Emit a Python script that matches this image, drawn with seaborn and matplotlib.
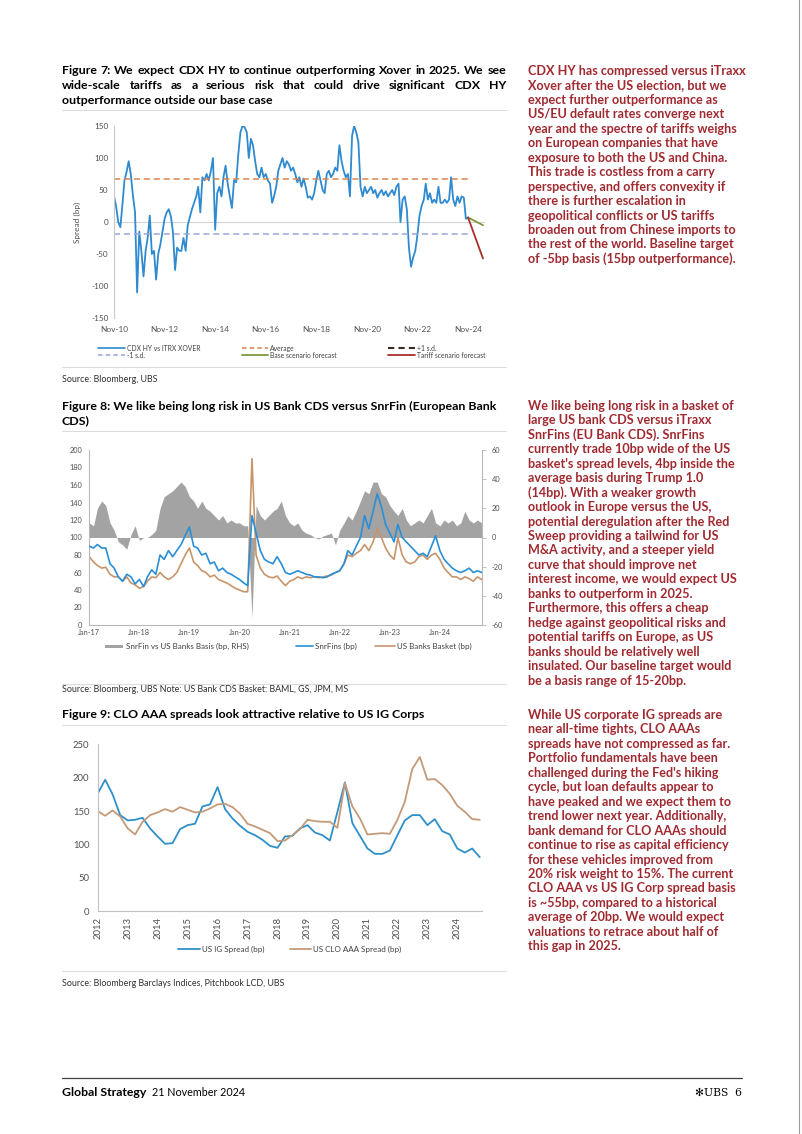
import matplotlib
matplotlib.use("Agg")
import matplotlib.pyplot as plt
from matplotlib.lines import Line2D
from matplotlib.patches import Rectangle
import pandas as pd
import seaborn as sns

# ---------------- Figure 7 data (monthly, Nov-2010 .. Nov-2024) ----------------
fig7_start = "2010-11-01"
cdx_hy_vs_xover = [
    40, 25, 0, -8, 25, 65, 78, 95, 75, 42, 15, -110,
    -15, -45, -85, -45, -25, 10, -50, -45, -90, -50, -35, -15,
    5, 15, 20, 8, -15, -75, -40, -45, -45, -25, -45, -5,
    8, 20, 30, 40, 55, 15, 70, 65, 75, 65, 80, 100,
    -12, 45, 55, 40, 70, 88, 60, 40, 22, 65, 62, 105,
    140, 150, 148, 140, 100, 130, 120, 95, 75, 70, 85, 70,
    75, 65, 60, 30, 40, 55, 80, 90, 100, 85, 95, 90,
    80, 85, 75, 62, 70, 55, 68, 55, 38, 40, 35, 45,
    65, 80, 65, 50, 45, 75, 80, 70, 75, 85, 80, 120,
    95, 80, 70, 75, 40, 135, 150, 140, 125, 55, 40, 55,
    45, 50, 55, 45, 50, 38, 45, 50, 42, 48, 40, 45,
    50, 42, 55, 60, 0, 35, 40, 20, -40, -70, -55, -45,
    -20, 10, 25, 35, 60, 35, 45, 30, 35, 30, 55, 30,
    30, 35, 30, 35, 70, 35, 25, 40, 30, 40, 38, 5,
    7,
]
fig7_average = 67
fig7_plus_sd = 155
fig7_minus_sd = -19
forecast_dates = ["2024-11-01", "2025-06-05"]
base_forecast = [7, -5]
tariff_forecast = [7, -57]
fig7_xticks = ["2010-11-01", "2012-11-01", "2014-11-01", "2016-11-01",
               "2018-11-01", "2020-11-01", "2022-11-01", "2024-11-01"]
fig7_xlabels = ["Nov-10", "Nov-12", "Nov-14", "Nov-16", "Nov-18", "Nov-20", "Nov-22", "Nov-24"]
fig7_yticks = [-150, -100, -50, 0, 50, 100, 150]

# ---------------- Figure 8 data (monthly, Jan-2017 .. Nov-2024) ----------------
fig8_start = "2017-01-01"
snrfins = [
    90, 88, 92, 88, 88, 70, 65, 55, 50, 58, 55, 47,
    52, 44, 55, 63, 58, 80, 75, 85, 78, 85, 92, 102,
    112, 90, 88, 80, 82, 70, 72, 62, 65, 60, 58, 55,
    52, 48, 45, 125, 105, 85, 75, 72, 70, 78, 70, 60,
    58, 60, 62, 60, 58, 57, 55, 55, 54, 55, 58, 60,
    62, 70, 85, 80, 90, 100, 125, 110, 130, 150, 135, 115,
    105, 95, 115, 100, 95, 90, 85, 80, 82, 78, 90, 102,
    85, 75, 70, 65, 62, 60, 62, 65, 60, 62, 60,
]
us_banks = [
    78, 72, 68, 65, 66, 58, 55, 55, 50, 55, 48, 46,
    42, 44, 50, 55, 54, 60, 55, 52, 55, 60, 70, 80,
    88, 72, 68, 62, 60, 55, 57, 52, 50, 48, 45, 42,
    40, 38, 38, 190, 80, 65, 58, 55, 54, 56, 50, 45,
    50, 52, 55, 53, 55, 54, 55, 54, 55, 56, 57, 60,
    62, 70, 80, 78, 82, 85, 92, 85, 95, 110, 100, 88,
    80, 75, 100, 80, 72, 70, 72, 78, 80, 75, 80, 82,
    75, 65, 60, 55, 55, 52, 55, 53, 50, 55, 52,
]
snrfin_basis = [
    10, 8, 20, 25, 22, 10, 5, -3, -5, -8, 2, 8,
    -2, 0, 0, 2, 5, 20, 28, 30, 32, 35, 38, 35,
    28, 25, 20, 25, 20, 18, 15, 12, 15, 10, 12, 10,
    10, 8, 8, -55, 22, 15, 12, 15, 18, 20, 25, 15,
    10, 8, 10, 5, 3, 2, 0, -1, 1, 2, 3, -5,
    5, 10, 15, 12, 18, 25, 32, 30, 38, 38, 30, 28,
    22, 18, 15, 20, 12, 8, 10, 12, 10, 15, 20, 10,
    8, 12, 10, 12, 8, 10, 18, 12, 10, 12, 10,
]
fig8_xticks = ["2017-01-01", "2018-01-01", "2019-01-01", "2020-01-01",
               "2021-01-01", "2022-01-01", "2023-01-01", "2024-01-01"]
fig8_xlabels = ["Jan-17", "Jan-18", "Jan-19", "Jan-20", "Jan-21", "Jan-22", "Jan-23", "Jan-24"]
fig8_lhs_ticks = [0, 20, 40, 60, 80, 100, 120, 140, 160, 180, 200]
fig8_rhs_ticks = [-60, -40, -20, 0, 20, 40, 60]

# ---------------- Figure 9 data (quarterly, 2012Q1 .. 2024Q4) ----------------
fig9_start = "2012-01-01"
us_ig = [
    176, 197, 175, 144, 136, 137, 140, 124, 112, 101, 102, 123,
    129, 131, 157, 160, 186, 153, 139, 128, 119, 114, 107, 98,
    95, 112, 113, 124, 129, 118, 114, 106, 149, 193, 132, 113,
    94, 86, 86, 91, 114, 136, 144, 144, 129, 138, 120, 115,
    94, 88, 94, 81,
]
us_clo_aaa = [
    150, 143, 151, 142, 124, 115, 134, 144, 148, 153, 149, 156,
    152, 148, 149, 154, 160, 161, 156, 146, 131, 127, 122, 117,
    105, 106, 114, 123, 137, 135, 134, 134, 125, 192, 157, 139,
    115, 116, 117, 116, 137, 164, 213, 231, 197, 198, 189, 176,
    158, 149, 138, 137,
]
fig9_years = ["2012", "2013", "2014", "2015", "2016", "2017", "2018",
              "2019", "2020", "2021", "2022", "2023", "2024"]
fig9_yticks = [0, 50, 100, 150, 200, 250]

# ---------------- styling ----------------
W, H = 802, 1134
sns.set_theme(style="white")
FONT = ["Lato", "DejaVu Sans"]
plt.rcParams["font.family"] = FONT
plt.rcParams["axes.unicode_minus"] = False

BLUE7, ORANGE7, LAV7 = "#2f8ad0", "#d9844c", "#9ea6da"
OLIVE7, RED7, DARK7 = "#7f9a3c", "#a8302a", "#3a2a25"
BLUE8, TAN8, GREY8 = "#2a8fd6", "#c8956a", "#a3a3a3"
BLUE9, TAN9 = "#2e90c9", "#c49a78"
TXTRED = "#a02a30"
TICKC = "#505050"
SPINE = "#c8c8c8"

fig = plt.figure(figsize=(W / 100, H / 100), dpi=100)
fig.patch.set_facecolor("white")
renderer = fig.canvas.get_renderer()


def fx(x):
    return x / W


def fy(y):
    return 1 - y / H


def text_px(x, y, s, **kw):
    kw.setdefault("va", "center")
    return fig.text(fx(x), fy(y), s, **kw)


def width_px(s, size, weight="normal"):
    t = fig.text(0, 0, s, fontsize=size, fontweight=weight)
    w = t.get_window_extent(renderer).width
    t.remove()
    return w


def fit(s, target, weight="normal"):
    return 10 * target / width_px(s, 10, weight)


def hline_px(x0, x1, y, color="#dcdcdc", lw=0.8, **kw):
    fig.add_artist(Line2D([fx(x0), fx(x1)], [fy(y), fy(y)], color=color, lw=lw, **kw))


def axes_px(l, t, r, b):
    return fig.add_axes([fx(l), fy(b), (r - l) / W, (b - t) / H])


def justified(y, line, x0, x1, **kw):
    words = line.split()
    ts = [text_px(0, y, w, **kw) for w in words]
    widths = [t.get_window_extent(renderer).width for t in ts]
    gap = (x1 - x0 - sum(widths)) / (len(words) - 1)
    x = x0
    for t, w in zip(ts, widths):
        t.set_x(fx(x))
        x += w + gap


TITLE = fit("Figure 9: CLO AAA spreads look attractive relative to US IG Corps", 365, "bold")
BODY = fit("year and the spectre of tariffs weighs", 210, "bold")
SRC = fit("Source: Bloomberg Barclays Indices, Pitchbook LCD, UBS", 224)
TICK7 = fit("Nov-10", 28)
TICK8 = fit("Jan-17", 22)
TICK9 = fit("250", 16.5)
LEG7 = fit("CDX HY vs ITRX XOVER", 73)
LEG8 = fit("SnrFin vs US Banks Basis (bp, RHS)", 122)
LEG9 = fit("US IG Spread (bp)", 62)
FOOTB = fit("Global Strategy", 84, "bold")
FOOT = fit("21 November 2024", 93)


def legend_line(x0, x1, y, label, size, **kw):
    fig.add_artist(Line2D([fx(x0), fx(x1)], [fy(y), fy(y)], **kw))
    text_px(x1 + 2, y, label, fontsize=size, color="#404040")


def style_axis(ax, tick_size, pad):
    for s in ax.spines.values():
        s.set_visible(False)
    ax.tick_params(length=0, labelsize=tick_size, colors=TICKC, pad=pad)
    ax.set_xlabel("")
    ax.set_ylabel("")
    ax.grid(False)


# ================= Figure 7 =================
justified(71, "Figure 7: We expect CDX HY to continue outperforming Xover in 2025. We see",
          62, 506, fontsize=TITLE, fontweight="bold", color="black")
justified(85.7, "wide-scale tariffs as a serious risk that could drive significant CDX HY",
          62, 506, fontsize=TITLE, fontweight="bold", color="black")
text_px(62, 100.3, "outperformance outside our base case", fontsize=TITLE, fontweight="bold", color="black")
hline_px(62, 506, 109.5)

ax7 = axes_px(114, 126, 485, 318)
d7 = pd.date_range(fig7_start, periods=len(cdx_hy_vs_xover), freq="MS")
ax7.axhline(0, color="#d4d4d4", lw=0.8, zorder=0)
sns.lineplot(x=d7, y=cdx_hy_vs_xover, ax=ax7, color=BLUE7, lw=1.3)
ax7.hlines([fig7_average], d7[0], d7[-1], colors=ORANGE7, linestyles=(0, (4, 2.5)), lw=1.1)
ax7.hlines([fig7_plus_sd], d7[0], d7[-1], colors=DARK7, linestyles=(0, (4, 2.5)), lw=1.3)
ax7.hlines([fig7_minus_sd], d7[0], d7[-1], colors=LAV7, linestyles=(0, (4, 2.5)), lw=1.1)
fd = pd.to_datetime(forecast_dates)
sns.lineplot(x=fd, y=base_forecast, ax=ax7, color=OLIVE7, lw=1.3)
sns.lineplot(x=fd, y=tariff_forecast, ax=ax7, color=RED7, lw=1.3)
ax7.set_ylim(-150, 150)
ax7.set_xlim(pd.Timestamp("2010-11-01"), pd.Timestamp("2025-07-04"))
ax7.set_yticks(fig7_yticks)
ax7.set_xticks(pd.to_datetime(fig7_xticks))
ax7.set_xticklabels(fig7_xlabels)
style_axis(ax7, TICK7, 4)
ax7.tick_params(axis="x", pad=6)
ax7.spines["left"].set_visible(True)
ax7.spines["left"].set_color(SPINE)
ax7.spines["left"].set_linewidth(0.8)
text_px(77, 222, "Spread (bp)", fontsize=TICK7, color=TICKC, rotation=90, ha="center")

legend_line(98, 125, 348.3, "CDX HY vs ITRX XOVER", LEG7, color=BLUE7, lw=1.2)
legend_line(98, 125, 355, "-1 s.d.", LEG7, color=LAV7, lw=1.1, ls=(0, (3, 2)))
legend_line(242, 268, 348.3, "Average", LEG7, color=ORANGE7, lw=1.1, ls=(0, (3, 2)))
legend_line(242, 268, 355, "Base scenario forecast", LEG7, color=OLIVE7, lw=1.3)
legend_line(388, 415, 348.3, "+1 s.d.", LEG7, color=DARK7, lw=1.5, ls=(0, (3, 2)))
legend_line(388, 415, 355, "Tariff scenario forecast", LEG7, color=RED7, lw=1.3)
hline_px(62, 506, 367)
text_px(62, 379, "Source: Bloomberg, UBS", fontsize=SRC, color="#303030")

# ================= Figure 8 =================
text_px(62, 406, "Figure 8: We like being long risk in US Bank CDS versus SnrFin (European Bank",
        fontsize=TITLE, fontweight="bold", color="black")
text_px(62, 420.5, "CDS)", fontsize=TITLE, fontweight="bold", color="black")
hline_px(62, 506, 431)

ax8 = axes_px(89.3, 450, 481.7, 625)
d8 = pd.date_range(fig8_start, periods=len(snrfins), freq="MS")
sns.lineplot(x=d8, y=snrfins, ax=ax8, color=BLUE8, lw=1.2, zorder=3)
sns.lineplot(x=d8, y=us_banks, ax=ax8, color=TAN8, lw=1.2, zorder=2)
ax8b = ax8.twinx()
ax8b.fill_between(d8, 0, snrfin_basis, color=GREY8, lw=0)
ax8b.set_ylim(-60, 60)
ax8b.set_yticks(fig8_rhs_ticks)
ax8.set_zorder(ax8b.get_zorder() + 1)
ax8.patch.set_visible(False)
ax8.set_ylim(0, 200)
ax8.set_yticks(fig8_lhs_ticks)
ax8.set_xlim(pd.Timestamp("2017-01-01"), pd.Timestamp("2024-11-01"))
ax8.set_xticks(pd.to_datetime(fig8_xticks))
ax8.set_xticklabels(fig8_xlabels)
style_axis(ax8, TICK8, 5)
style_axis(ax8b, TICK8, 4)
ax8.tick_params(axis="x", pad=3)
for sp in ("left", "bottom"):
    ax8.spines[sp].set_visible(True)
    ax8.spines[sp].set_color("#b8b8b8")
    ax8.spines[sp].set_linewidth(0.8)
ax8b.spines["right"].set_visible(True)
ax8b.spines["right"].set_color("#b8b8b8")
ax8b.spines["right"].set_linewidth(0.8)
ax8b.tick_params(axis="y", length=3, width=0.6, color="#b8b8b8", direction="out")

fig.add_artist(Rectangle((fx(105), fy(647.5)), 18 / W, 3 / H, color=GREY8, lw=0))
text_px(126, 646, "SnrFin vs US Banks Basis (bp, RHS)", fontsize=LEG8, color="#404040")
legend_line(296, 313, 646, "SnrFins (bp)", LEG8, color=BLUE8, lw=1.2)
legend_line(375, 395, 646, "US Banks Basket (bp)", LEG8, color=TAN8, lw=1.2)
hline_px(62, 506, 684)
text_px(62, 690, "Source: Bloomberg, UBS Note: US Bank CDS Basket: BAML, GS, JPM, MS",
        fontsize=SRC, color="#303030")

# ================= Figure 9 =================
text_px(62, 715, "Figure 9: CLO AAA spreads look attractive relative to US IG Corps",
        fontsize=TITLE, fontweight="bold", color="black")
hline_px(62, 506, 725)

ax9 = axes_px(97.7, 744.3, 482, 911.3)
d9 = pd.date_range(fig9_start, periods=len(us_ig), freq="QS")
sns.lineplot(x=d9, y=us_ig, ax=ax9, color=BLUE9, lw=1.3)
sns.lineplot(x=d9, y=us_clo_aaa, ax=ax9, color=TAN9, lw=1.3)
ax9.set_ylim(0, 250)
ax9.set_yticks(fig9_yticks)
ax9.set_xlim(pd.Timestamp("2012-01-01"), pd.Timestamp("2024-10-28"))
ax9.set_xticks(pd.to_datetime([y + "-01-01" for y in fig9_years]))
ax9.set_xticklabels(fig9_years, rotation=90)
style_axis(ax9, TICK9, 6)
ax9.tick_params(axis="x", pad=4)
for sp in ("left", "bottom"):
    ax9.spines[sp].set_visible(True)
    ax9.spines[sp].set_color("#c0c0c0")
    ax9.spines[sp].set_linewidth(0.8)

legend_line(178, 200, 949, "US IG Spread (bp)", LEG9, color=BLUE9, lw=1.3)
legend_line(290, 311, 949, "US CLO AAA Spread (bp)", LEG9, color=TAN9, lw=1.3)
hline_px(62, 506, 971)
text_px(62, 983, "Source: Bloomberg Barclays Indices, Pitchbook LCD, UBS", fontsize=SRC, color="#303030")

# ================= right column commentary =================
block1 = [
    "CDX HY has compressed versus iTraxx",
    "Xover after the US election, but we",
    "expect further outperformance as",
    "US/EU default rates converge next",
    "year and the spectre of tariffs weighs",
    "on European companies that have",
    "exposure to both the US and China.",
    "This trade is costless from a carry",
    "perspective, and offers convexity if",
    "there is further escalation in",
    "geopolitical conflicts or US tariffs",
    "broaden out from Chinese imports to",
    "the rest of the world. Baseline target",
    "of -5bp basis (15bp outperformance).",
]
block2 = [
    "We like being long risk in a basket of",
    "large US bank CDS versus iTraxx",
    "SnrFins (EU Bank CDS). SnrFins",
    "currently trade 10bp wide of the US",
    "basket's spread levels, 4bp inside the",
    "average basis during Trump 1.0",
    "(14bp). With a weaker growth",
    "outlook in Europe versus the US,",
    "potential deregulation after the Red",
    "Sweep providing a tailwind for US",
    "M&A activity, and a steeper yield",
    "curve that should improve net",
    "interest income, we would expect US",
    "banks to outperform in 2025.",
    "Furthermore, this offers a cheap",
    "hedge against geopolitical risks and",
    "potential tariffs on Europe, as US",
    "banks should be relatively well",
    "insulated. Our baseline target would",
    "be a basis range of 15-20bp.",
]
block3 = [
    "While US corporate IG spreads are",
    "near all-time tights, CLO AAAs",
    "spreads have not compressed as far.",
    "Portfolio fundamentals have been",
    "challenged during the Fed's hiking",
    "cycle, but loan defaults appear to",
    "have peaked and we expect them to",
    "trend lower next year. Additionally,",
    "bank demand for CLO AAAs should",
    "continue to rise as capital efficiency",
    "for these vehicles improved from",
    "20% risk weight to 15%. The current",
    "CLO AAA vs US IG Corp spread basis",
    "is ~55bp, compared to a historical",
    "average of 20bp. We would expect",
    "valuations to retrace about half of",
    "this gap in 2025.",
]
for y0, block in ((71, block1), (406, block2), (715, block3)):
    for i, line in enumerate(block):
        text_px(528, y0 + i * 14.45, line, fontsize=BODY, fontweight="bold", color=TXTRED)

# ================= footer / page edge =================
hline_px(62, 742, 1078, color="#404040", lw=0.9)
text_px(62, 1093, "Global Strategy", fontsize=FOOTB, fontweight="bold", color="black")
text_px(152, 1093, "21 November 2024", fontsize=FOOT, color="black")
text_px(742, 1093, "\u273bUBS  6", fontsize=FOOT, color="black", ha="right",
        family=["DejaVu Serif", "DejaVu Sans"])
fig.add_artist(Line2D([fx(799), fx(799)], [0, 1], color="#9a9a9a", lw=0.8))

fig.savefig("out.png", dpi=100, facecolor="white")
